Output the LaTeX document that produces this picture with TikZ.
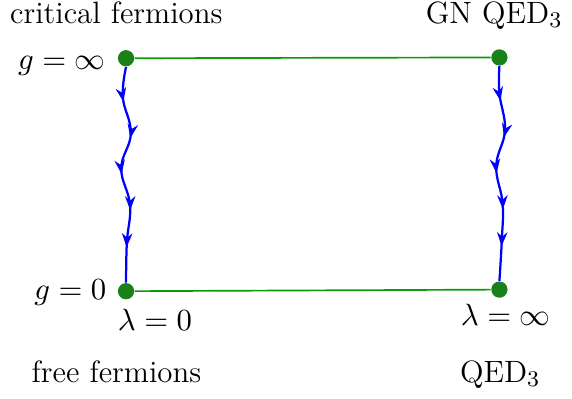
\documentclass[tikz,border=0pt]{standalone}
\usepackage{tikz}
\usetikzlibrary{arrows.meta,positioning,decorations.markings,calc}
\definecolor{dotgreen}{RGB}{26,128,26}
\definecolor{linegreen}{RGB}{10,155,10}
\tikzset{
  fixpt/.style={circle, fill=dotgreen, inner sep=0pt, minimum size=5.8pt},
  bound/.style={draw=linegreen, semithick},
  flow/.style={draw=blue, thick,
               decoration={markings,
                 mark=at position 0.16 with {\arrow{Stealth[length=5pt,width=3.7pt]}},
                 mark=at position 0.33 with {\arrow{Stealth[length=5pt,width=3.7pt]}},
                 mark=at position 0.50 with {\arrow{Stealth[length=5pt,width=3.7pt]}},
                 mark=at position 0.67 with {\arrow{Stealth[length=5pt,width=3.7pt]}},
                 mark=at position 0.84 with {\arrow{Stealth[length=5pt,width=3.7pt]}}},
               postaction={decorate}},
  lbl/.style={inner sep=0pt, font=\fontsize{11pt}{13.5pt}\selectfont},
}

\begin{document}
\begin{tikzpicture}
    \useasboundingbox (-1.58,-1.34) rectangle (5.59,3.65);
    % fixed points
    \node[fixpt] (bl) at (0,0) {};
    \node[fixpt] (tl) at (0,2.92) {};
    \node[fixpt] (br) at (4.68,0.02) {};
    \node[fixpt] (tr) at (4.68,2.93) {};
    \draw[bound] (tl) -- (tr);
    \draw[bound] (bl) -- (br);
    % flows
    \draw[flow] plot[smooth, tension=0.7] coordinates {(tl.south) (-0.04,2.43) (0.06,1.98)
        (-0.06,1.54) (0.05,1.08) (0.01,0.61) (bl.north)};
    \draw[flow] plot[smooth, tension=0.7] coordinates {(tr.south) (4.68,2.48) (4.75,2.02)
        (4.64,1.57) (4.72,1.10) (4.71,0.64) (br.north)};
    % labels
    \node[lbl, anchor=base east] (gInf) at ($(tl)+(-0.25,-0.14)$) {$g=\infty$};
    \node[lbl, anchor=base east] (gZero) at ($(bl)+(-0.24,-0.10)$) {$g=0$};
    \node[lbl, anchor=base west] (lamZero) at ($(bl)+(-0.11,-0.49)$) {$\lambda=0$};
    \node[lbl, anchor=base west] (lamInf) at ($(br)+(-0.49,-0.45)$) {$\lambda=\infty$};
    \node[lbl, anchor=base west] (crit) at (-1.46,3.36) {critical fermions};
    \node[lbl, anchor=base west] (gnqed) at (3.75,3.36) {GN QED$_3$};
    \node[lbl, anchor=base west] (free) at (-1.19,-1.14) {free fermions};
    \node[lbl, anchor=base west] (qed) at (4.18,-1.14) {QED$_3$};
\end{tikzpicture}
\end{document}
